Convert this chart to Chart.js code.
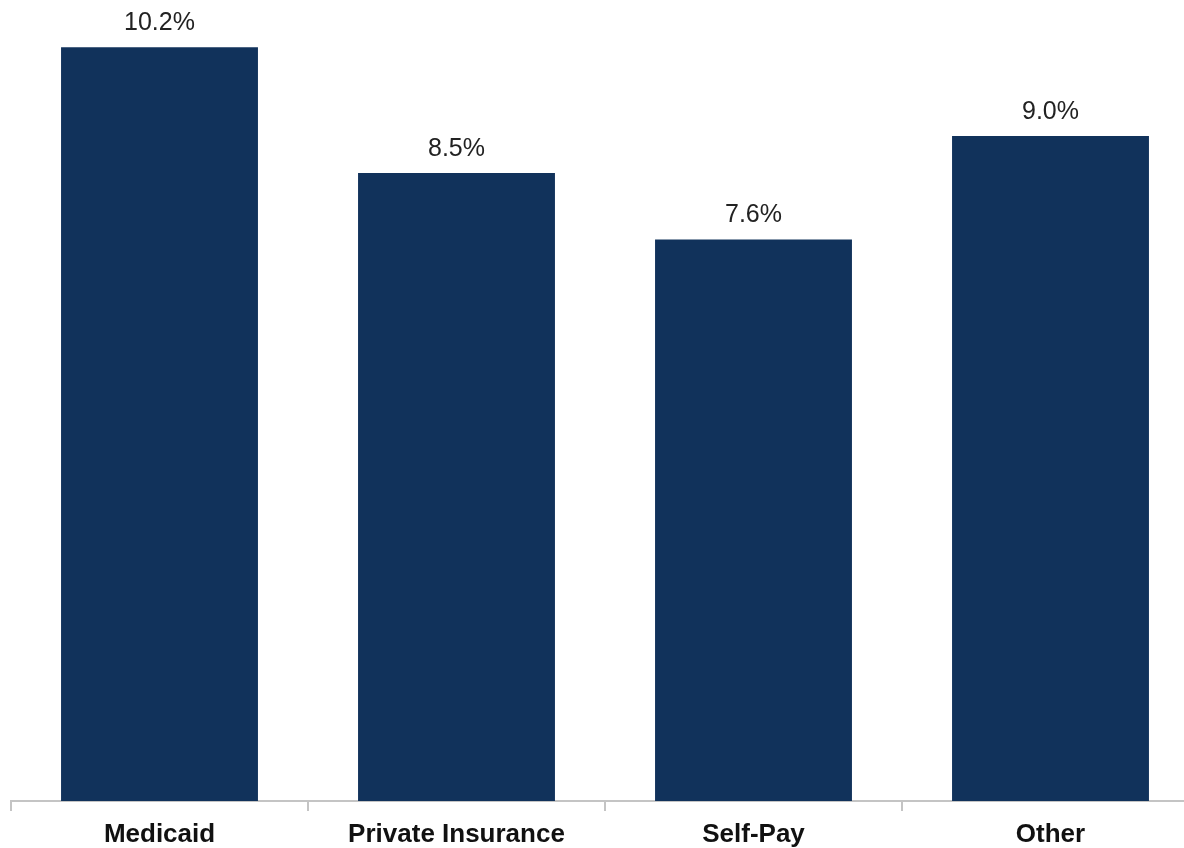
<!DOCTYPE html>
<html>
<head>
<meta charset="utf-8">
<script src="https://cdn.jsdelivr.net/npm/chart.js@4"></script>
<style>
  html, body { margin: 0; padding: 0; background: #fff; overflow: hidden; }
  #wrap { width: 1184px; height: 848px; overflow: hidden; }
</style>
</head>
<body>
<div id="wrap"><canvas id="chart" width="1210" height="848"></canvas></div>
<script>
const categories = ["Medicaid", "Private Insurance", "Self-Pay", "Other"];
const values = [10.2, 8.5, 7.6, 9.0];
const valueLabels = ["10.2%", "8.5%", "7.6%", "9.0%"];

const BAR_COLOR = "#11325b";
const AXIS_COLOR = "#c4c4c4";

// draws the percentage text above each bar
const valueLabelPlugin = {
    id: "valueLabels",
    afterDatasetsDraw(chart) {
        const ctx = chart.ctx;
        const meta = chart.getDatasetMeta(0);
        ctx.save();
        ctx.font = "25px 'Liberation Sans', Arial, sans-serif";
        ctx.fillStyle = "#222";
        ctx.textAlign = "center";
        ctx.textBaseline = "alphabetic";
        meta.data.forEach((bar, i) => {
            ctx.fillText(valueLabels[i], bar.x, bar.y - 17);
        });
        ctx.restore();
    }
};

new Chart(document.getElementById("chart").getContext("2d"), {
    type: "bar",
    data: {
        labels: categories,
        datasets: [{
            data: values,
            backgroundColor: BAR_COLOR,
            borderWidth: 0,
            categoryPercentage: 1,
            barPercentage: 0.663
        }]
    },
    options: {
        responsive: false,
        animation: false,
        devicePixelRatio: 1,
        layout: { padding: { left: 11, right: 11, top: 0, bottom: 0 } },
        plugins: {
            legend: { display: false },
            tooltip: { enabled: false }
        },
        scales: {
            y: {
                display: false,
                min: 0,
                max: 10.84
            },
            x: {
                afterFit(scale) { scale.height = 47; },
                border: { display: true, color: AXIS_COLOR, width: 2 },
                grid: {
                    offset: true,
                    drawOnChartArea: false,
                    drawTicks: true,
                    tickLength: 10,
                    color: AXIS_COLOR,
                    lineWidth: 2
                },
                ticks: {
                    color: "#111",
                    padding: 8,
                    font: { family: "'Liberation Sans', Arial, sans-serif", size: 26, weight: "bold" }
                }
            }
        }
    },
    plugins: [valueLabelPlugin]
});
</script>
</body>
</html>
